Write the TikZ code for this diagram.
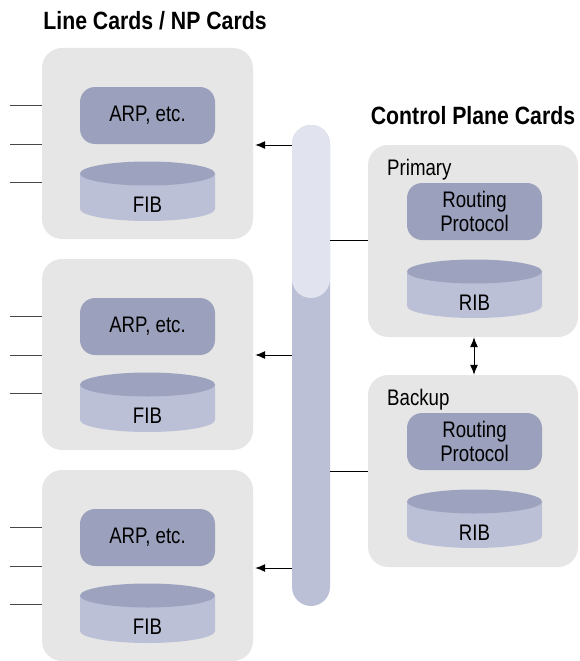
\documentclass[tikz,border=0pt]{standalone}
\usepackage{fontspec}
\setmainfont{Liberation Sans}[FakeStretch=0.83]
\newfontfamily\headfont{Liberation Sans Bold}[FakeStretch=0.85]
\usetikzlibrary{arrows.meta}

\definecolor{cardgray}{RGB}{230,230,230}
\definecolor{procblue}{RGB}{155,161,189}
\definecolor{drumbody}{RGB}{188,192,214}
\definecolor{drumlid}{RGB}{157,163,191}
\definecolor{buslight}{RGB}{225,228,238}
\definecolor{stubgray}{RGB}{70,70,70}

\tikzset{
  card/.style={fill=cardgray, rounded corners=20pt, inner sep=0pt,
    minimum width=211pt, minimum height=191pt},
  proc/.style={fill=procblue, rounded corners=15pt, inner sep=0pt,
    minimum width=135pt, minimum height=57pt, align=center,
    font=\fontsize{22.5}{24}\selectfont},
  drumlabel/.style={inner sep=0pt, font=\fontsize{22.5}{24}\selectfont},
  cardlabel/.style={inner sep=0pt, anchor=west, font=\fontsize{22.5}{24}\selectfont},
  heading/.style={inner sep=0pt, font=\headfont\fontsize{25}{28}\selectfont},
  stub/.style={draw=stubgray, line width=1pt},
  wire/.style={draw=black, line width=1pt},
  feed/.style={draw=black, line width=1pt, -{Latex[length=10pt,width=8pt]}},
  sync/.style={draw=black, line width=1pt, {Latex[length=10pt,width=8pt]}-{Latex[length=10pt,width=8pt]}},
}

% drum (cylinder): #1 centre x, #2 lid centre y, #3 base centre y
\newcommand\drawdrum[3]{%
  \fill[drumbody] (#1-67.5,#2) -- (#1-67.5,#3)
    arc[start angle=180,end angle=0,x radius=67.5,y radius=12]
    -- (#1+67.5,#2) -- cycle;
  \fill[drumlid] (#1,#2) ellipse[x radius=67.5,y radius=12];
}

\begin{document}
\begin{tikzpicture}[x=1pt,y=-1pt]
\useasboundingbox (0,0) rectangle (579,661);

% headings
\node[heading] (hline) at (155,21) {Line Cards / NP Cards};
\node[heading] (hctrl) at (473,116) {Control Plane Cards};

% backplane bus
\fill[drumbody, rounded corners=19pt] (292,125) rectangle (330,606);
\fill[buslight, rounded corners=19pt] (292,125) rectangle (330,298);
\coordinate (busA) at (292,145);
\coordinate (busB) at (292,355);
\coordinate (busC) at (292,568);
\coordinate (busP) at (330,240);
\coordinate (busK) at (330,471);

% line cards
\foreach \i/\cy in {1/143.5, 2/354.5, 3/565.5} {
  \node[card] (lc\i) at (147.5,\cy) {};
  \node[proc] (arp\i) at (147.5,\cy-28) {ARP, etc.};
  \drawdrum{147.5}{\cy+30}{\cy+65.5}
  \node[drumlabel] (fib\i) at (147.5,\cy+61) {FIB};
  \foreach \k/\dy in {a/-38, b/1, c/39} {
    \coordinate (port\i\k) at (10,\cy+\dy);
    \draw[stub] (port\i\k) -- (port\i\k -| lc\i.west);
  }
}

% control plane cards
\node[card, minimum width=210pt, minimum height=192pt] (prim) at (473,241) {};
\node[cardlabel] (primlbl) at (387,170) {Primary};
\node[proc] (rp1) at (474.5,211.5) {Routing\\Protocol};
\drawdrum{474.5}{271.5}{306}
\node[drumlabel] (rib1) at (474.5,302.5) {RIB};

\node[card, minimum width=210pt, minimum height=192pt] (back) at (473,471) {};
\node[cardlabel] (backlbl) at (387,400) {Backup};
\node[proc] (rp2) at (474.5,441.5) {Routing\\Protocol};
\drawdrum{474.5}{501.5}{536}
\node[drumlabel] (rib2) at (474.5,532.5) {RIB};

% connectors
\draw[feed] (busA) -- ([xshift=2pt]lc1.east |- busA);
\draw[feed] (busB) -- ([xshift=2pt]lc2.east |- busB);
\draw[feed] (busC) -- ([xshift=2pt]lc3.east |- busC);
\draw[wire] (busP) -- (busP -| prim.west);
\draw[wire] (busK) -- (busK -| back.west);
\draw[sync] ([xshift=1pt]prim.south) -- ([xshift=1pt]back.north);
\end{tikzpicture}
\end{document}
